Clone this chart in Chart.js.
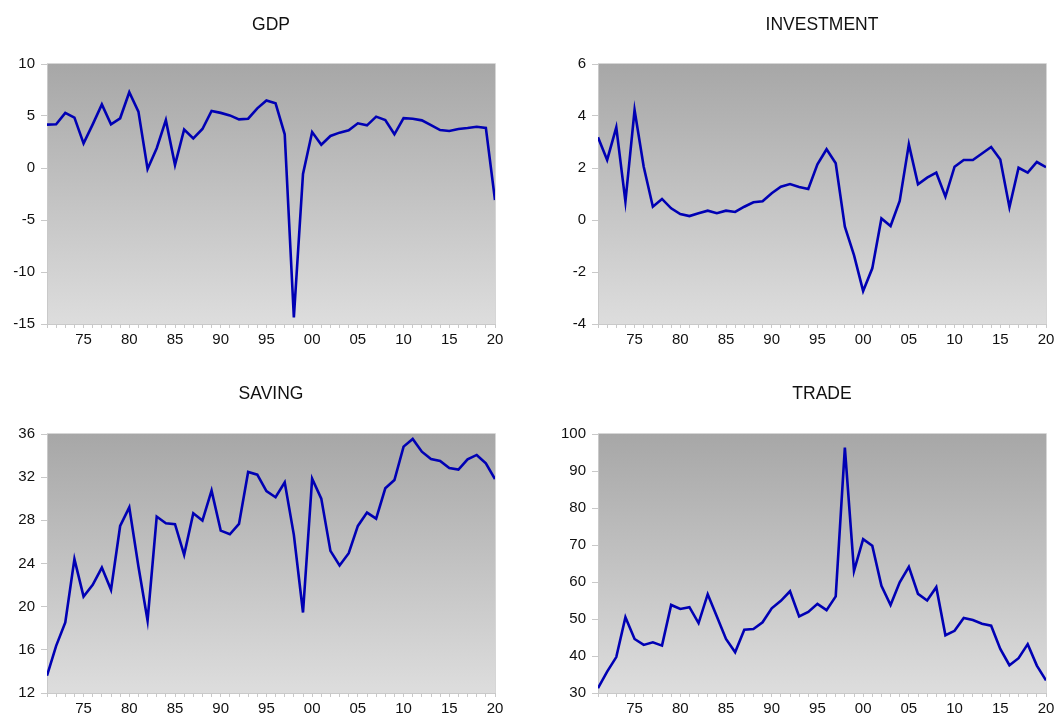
<!DOCTYPE html>
<html>
<head>
<meta charset="utf-8">
<title>GDP, Investment, Saving, Trade</title>
<script src="https://cdn.jsdelivr.net/npm/chart.js@4.4.1/dist/chart.umd.min.js"></script>
<style>
    html, body { margin: 0; padding: 0; background: #ffffff; overflow: hidden; }
    #page { position: relative; width: 1060px; height: 716px; }
    .panel { position: absolute; }
</style>
</head>
<body>
<div id="page">
    <div class="panel" style="left:0px;top:0px;width:530px;height:360px"><canvas id="gdpChart"></canvas></div>
    <div class="panel" style="left:551px;top:0px;width:509px;height:360px"><canvas id="investmentChart"></canvas></div>
    <div class="panel" style="left:0px;top:370px;width:530px;height:346px"><canvas id="savingChart"></canvas></div>
    <div class="panel" style="left:551px;top:370px;width:509px;height:346px"><canvas id="tradeChart"></canvas></div>
</div>
<script>
// Years 1971 - 2020
const years = [
    1971, 1972, 1973, 1974, 1975, 1976, 1977, 1978, 1979, 1980,
    1981, 1982, 1983, 1984, 1985, 1986, 1987, 1988, 1989, 1990,
    1991, 1992, 1993, 1994, 1995, 1996, 1997, 1998, 1999, 2000,
    2001, 2002, 2003, 2004, 2005, 2006, 2007, 2008, 2009, 2010,
    2011, 2012, 2013, 2014, 2015, 2016, 2017, 2018, 2019, 2020
];

const gdp = [
    4.17, 4.2, 5.3, 4.84, 2.37, 4.2, 6.12, 4.2, 4.78, 7.28,
    5.42, -0.1, 1.9, 4.6, 0.3, 3.7, 2.85, 3.75, 5.48, 5.3,
    5.06, 4.68, 4.74, 5.74, 6.5, 6.22, 3.24, -14.36, -0.58, 3.46,
    2.24, 3.08, 3.4, 3.62, 4.3, 4.1, 4.94, 4.62, 3.24, 4.8,
    4.74, 4.58, 4.13, 3.65, 3.56, 3.75, 3.85, 3.97, 3.85, -3.08
];

const investment = [
    3.18, 2.31, 3.56, 0.71, 4.23, 2.05, 0.51, 0.81, 0.45, 0.23,
    0.15, 0.26, 0.36, 0.26, 0.36, 0.31, 0.51, 0.68, 0.72, 1.03,
    1.28, 1.38, 1.27, 1.19, 2.14, 2.72, 2.18, -0.26, -1.35, -2.73,
    -1.86, 0.06, -0.23, 0.73, 2.91, 1.37, 1.63, 1.82, 0.9, 2.05,
    2.31, 2.31, 2.56, 2.81, 2.33, 0.49, 2.01, 1.82, 2.23, 2.03
];

const saving = [
    13.6, 16.37, 18.53, 24.4, 20.94, 22.02, 23.62, 21.56, 27.48, 29.2,
    23.72, 18.72, 28.35, 27.73, 27.64, 24.8, 28.65, 27.98, 30.75, 27.05,
    26.71, 27.67, 32.48, 32.23, 30.7, 30.14, 31.52, 26.65, 19.46, 31.86,
    30.01, 25.17, 23.81, 24.95, 27.48, 28.72, 28.16, 30.97, 31.74, 34.83,
    35.54, 34.36, 33.69, 33.5, 32.85, 32.7, 33.65, 34.06, 33.28, 31.83
];

const trade = [
    31.3, 35.8, 39.7, 50.5, 44.6, 43.0, 43.7, 42.8, 53.8, 52.7,
    53.2, 48.9, 56.7, 50.7, 44.6, 41.0, 47.1, 47.3, 49.1, 52.9,
    54.9, 57.5, 50.7, 51.9, 54.1, 52.4, 56.1, 96.3, 63.0, 71.6,
    69.8, 59.0, 53.8, 59.9, 64.1, 56.8, 55.0, 58.6, 45.6, 46.8,
    50.3, 49.7, 48.7, 48.2, 41.9, 37.5, 39.4, 43.2, 37.4, 33.4
];

// y axis ranges: [min, max, step]
const gdpTicks = [-15, 10, 5];
const investmentTicks = [-4, 6, 2];
const savingTicks = [12, 36, 4];
const tradeTicks = [30, 100, 10];

const AXIS_GRAY = '#c9c9c9';
const LINE_BLUE = '#0000b4';
const FONT = "'Liberation Sans', Arial, sans-serif";

// gradient panel background, frame and title
const panelPlugin = {
    id: 'panelDecor',
    beforeDraw(chart) {
        const { ctx, chartArea: a } = chart;
        const grad = ctx.createLinearGradient(0, a.top, 0, a.bottom);
        grad.addColorStop(0, '#a7a7a7');
        grad.addColorStop(1, '#dddddd');
        ctx.save();
        ctx.fillStyle = grad;
        ctx.fillRect(a.left, a.top, a.right - a.left, a.bottom - a.top);
        ctx.restore();
    },
    afterDraw(chart, args, opts) {
        const { ctx, chartArea: a } = chart;
        ctx.save();
        ctx.strokeStyle = '#d6d6d6';
        ctx.lineWidth = 1;
        ctx.beginPath();
        ctx.moveTo(a.left, a.top - 0.5);
        ctx.lineTo(a.right + 0.5, a.top - 0.5);
        ctx.lineTo(a.right + 0.5, a.bottom);
        ctx.stroke();
        ctx.fillStyle = '#111111';
        ctx.font = '17.5px ' + FONT;
        ctx.textAlign = 'center';
        ctx.textBaseline = 'middle';
        ctx.fillText(opts.text, (a.left + a.right) / 2, opts.y);
        ctx.restore();
    }
};

function makePanel(canvasId, title, values, yTicks, opts) {
    const ctx = document.getElementById(canvasId);
    return new Chart(ctx, {
        type: 'line',
        data: {
            datasets: [{
                data: years.map((yr, i) => ({ x: yr, y: values[i] })),
                borderColor: LINE_BLUE,
                borderWidth: 2.6,
                pointRadius: 0,
                tension: 0,
                fill: false
            }]
        },
        options: {
            responsive: true,
            maintainAspectRatio: false,
            animation: false,
            layout: {
                padding: { top: 64, left: 0, right: opts.rightPad, bottom: opts.bottomPad }
            },
            plugins: {
                legend: { display: false },
                tooltip: { enabled: false },
                panelDecor: { text: title, y: opts.titleY }
            },
            scales: {
                x: {
                    type: 'linear',
                    min: years[0],
                    max: years[years.length - 1],
                    afterFit: (scale) => { scale.height = opts.xHeight; },
                    afterBuildTicks: (scale) => {
                        scale.ticks = years.map(v => ({ value: v }));
                    },
                    grid: {
                        drawOnChartArea: false,
                        tickLength: 4,
                        color: AXIS_GRAY,
                        tickColor: AXIS_GRAY
                    },
                    border: { color: AXIS_GRAY },
                    ticks: {
                        autoSkip: false,
                        maxRotation: 0,
                        padding: 3,
                        color: '#111111',
                        font: { family: FONT, size: 15 },
                        callback: (v) => (v % 5 === 0 ? String(v % 100).padStart(2, '0') : '')
                    }
                },
                y: {
                    min: yTicks[0],
                    max: yTicks[1],
                    afterFit: (scale) => { scale.width = 47; },
                    grid: {
                        drawOnChartArea: false,
                        tickLength: 6,
                        color: AXIS_GRAY,
                        tickColor: AXIS_GRAY
                    },
                    border: { color: AXIS_GRAY },
                    ticks: {
                        stepSize: yTicks[2],
                        padding: 6,
                        color: '#111111',
                        font: { family: FONT, size: 15 }
                    }
                }
            }
        },
        plugins: [panelPlugin]
    });
}

document.addEventListener('DOMContentLoaded', () => {
    makePanel('gdpChart', 'GDP', gdp, gdpTicks,
        { rightPad: 35, bottomPad: 0, xHeight: 36, titleY: 25 });
    makePanel('investmentChart', 'INVESTMENT', investment, investmentTicks,
        { rightPad: 14, bottomPad: 0, xHeight: 36, titleY: 25 });
    makePanel('savingChart', 'SAVING', saving, savingTicks,
        { rightPad: 35, bottomPad: 0, xHeight: 23, titleY: 24 });
    makePanel('tradeChart', 'TRADE', trade, tradeTicks,
        { rightPad: 14, bottomPad: 0, xHeight: 23, titleY: 24 });
});
</script>
</body>
</html>
